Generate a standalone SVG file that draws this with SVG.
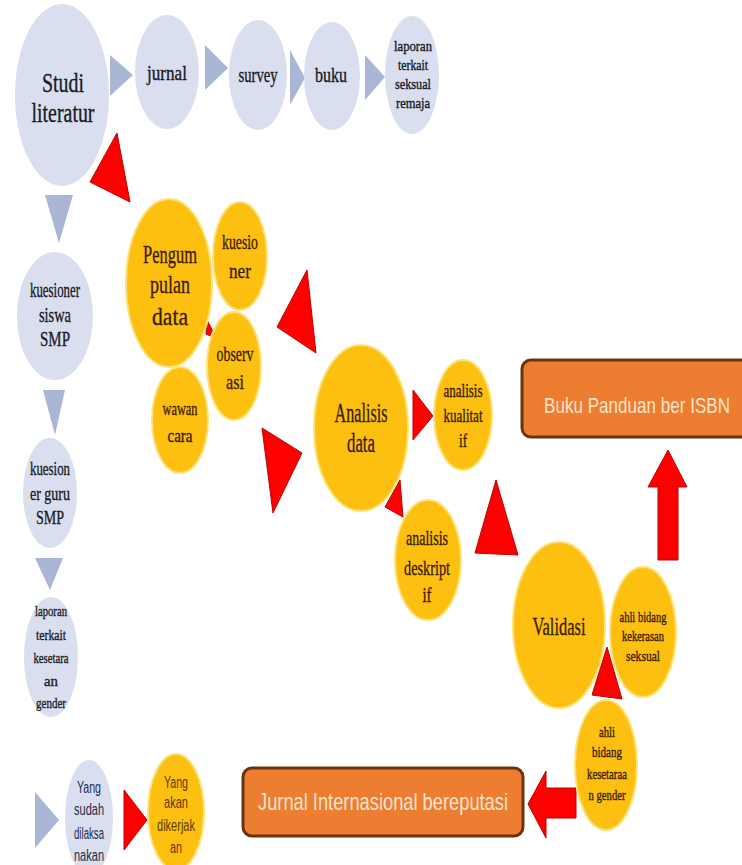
<svg xmlns="http://www.w3.org/2000/svg" width="742" height="865" viewBox="0 0 742 865">
<defs>
<style>
.blue{fill:#D9DFEE}
.yel{fill:#FDC010;stroke:#FBE27A;stroke-width:2}
.tri{fill:#A9B6D6}
.red{fill:#FF0000;stroke:#C00000;stroke-width:1}
.box{fill:#ED7D31;stroke:#6B3410;stroke-width:3}
.st{font-family:"Liberation Serif",serif;text-anchor:middle;fill:#1A1A26;stroke:#1A1A26;stroke-width:0.35}
.sy{font-family:"Liberation Serif",serif;text-anchor:middle;fill:#3B1C08;stroke:#3B1C08;stroke-width:0.35}
.bt{font-family:"Liberation Sans",sans-serif;text-anchor:middle;fill:#FBE3CC}
.lg{font-family:"Liberation Sans",sans-serif;text-anchor:middle}
</style>
</defs>
<rect width="742" height="865" fill="#FFFFFF"/>

<g id="connectors">
<polygon class="tri" points="110,55 133,75 110,96"/>
<polygon class="tri" points="205,45 228,68 205,90"/>
<polygon class="tri" points="290,50 305,78 290,105"/>
<polygon class="tri" points="365,55 385,77 365,100"/>
<polygon class="tri" points="45,195 73,195 59,243"/>
<polygon class="tri" points="43,390 65,390 55,435"/>
<polygon class="tri" points="35,558 63,558 50,590"/>
<polygon class="red" points="117,133 90,182 130,202"/>
<polygon class="red" points="307,270 277,327 316,353"/>
<polygon class="red" points="207,320 217,339 206,334"/>
<polygon class="red" points="262,428 302,453 273,513"/>
<polygon class="red" points="413,390 433,416 413,440"/>
<polygon class="red" points="400,480 385,507 403,517"/>
<polygon class="red" points="496,480 475,553 518,555"/>
<polygon class="red" points="607,647 592,695 622,699"/>
<polygon class="red" points="668,450 687,487 678,487 678,560 658,560 658,487 648,487"/>
<polygon class="red" points="528,804 546,771 546,788 576,788 576,818 546,818 546,838"/>
</g>

<g id="studi-literatur">
<ellipse class="blue" cx="62" cy="95" rx="47" ry="91"/>
<text class="st" x="63" y="92" font-size="27" textLength="42" lengthAdjust="spacingAndGlyphs">Studi</text>
<text class="st" x="63" y="122" font-size="27" textLength="63" lengthAdjust="spacingAndGlyphs">literatur</text>
</g>
<g id="jurnal">
<ellipse class="blue" cx="167" cy="72" rx="32" ry="57"/>
<text class="st" x="167" y="80" font-size="20" textLength="40" lengthAdjust="spacingAndGlyphs">jurnal</text>
</g>
<g id="survey">
<ellipse class="blue" cx="258" cy="75" rx="29" ry="55"/>
<text class="st" x="258" y="82" font-size="20" textLength="39" lengthAdjust="spacingAndGlyphs">survey</text>
</g>
<g id="buku">
<ellipse class="blue" cx="332" cy="76" rx="28" ry="54"/>
<text class="st" x="331" y="82" font-size="20" textLength="32" lengthAdjust="spacingAndGlyphs">buku</text>
</g>
<g id="laporan-seksual">
<ellipse class="blue" cx="412" cy="75" rx="27" ry="59"/>
<text class="st" x="413" y="51" font-size="14" textLength="38" lengthAdjust="spacingAndGlyphs">laporan</text>
<text class="st" x="413" y="70" font-size="14" textLength="30" lengthAdjust="spacingAndGlyphs">terkait</text>
<text class="st" x="413" y="89" font-size="14" textLength="36" lengthAdjust="spacingAndGlyphs">seksual</text>
<text class="st" x="413" y="108" font-size="14" textLength="34" lengthAdjust="spacingAndGlyphs">remaja</text>
</g>

<g id="kuesioner-siswa">
<ellipse class="blue" cx="55" cy="316" rx="38" ry="64"/>
<text class="st" x="55" y="297" font-size="21" textLength="50" lengthAdjust="spacingAndGlyphs">kuesioner</text>
<text class="st" x="55" y="322" font-size="21" textLength="32" lengthAdjust="spacingAndGlyphs">siswa</text>
<text class="st" x="55" y="346" font-size="21" textLength="30" lengthAdjust="spacingAndGlyphs">SMP</text>
</g>
<g id="kuesioner-guru">
<ellipse class="blue" cx="50" cy="493" rx="27" ry="55"/>
<text class="st" x="50" y="475" font-size="19" textLength="40" lengthAdjust="spacingAndGlyphs">kuesion</text>
<text class="st" x="50" y="500" font-size="19" textLength="40" lengthAdjust="spacingAndGlyphs">er guru</text>
<text class="st" x="50" y="524" font-size="19" textLength="28" lengthAdjust="spacingAndGlyphs">SMP</text>
</g>
<g id="laporan-gender">
<ellipse class="blue" cx="51" cy="657" rx="27" ry="60"/>
<text class="st" x="51" y="616" font-size="15" textLength="32" lengthAdjust="spacingAndGlyphs">laporan</text>
<text class="st" x="51" y="640" font-size="15" textLength="30" lengthAdjust="spacingAndGlyphs">terkait</text>
<text class="st" x="51" y="663" font-size="15" textLength="35" lengthAdjust="spacingAndGlyphs">kesetara</text>
<text class="st" x="51" y="686" font-size="15" textLength="14" lengthAdjust="spacingAndGlyphs">an</text>
<text class="st" x="51" y="708" font-size="15" textLength="30" lengthAdjust="spacingAndGlyphs">gender</text>
</g>

<g id="pengumpulan-data">
<ellipse class="yel" cx="169" cy="283" rx="43" ry="84"/>
<text class="sy" x="170" y="263" font-size="26" textLength="54" lengthAdjust="spacingAndGlyphs">Pengum</text>
<text class="sy" x="170" y="293" font-size="26" textLength="40" lengthAdjust="spacingAndGlyphs">pulan</text>
<text class="sy" x="170" y="325" font-size="26" textLength="36" lengthAdjust="spacingAndGlyphs">data</text>
</g>
<g id="kuesioner">
<ellipse class="yel" cx="240" cy="256" rx="27" ry="54"/>
<text class="sy" x="240" y="249" font-size="22" textLength="36" lengthAdjust="spacingAndGlyphs">kuesio</text>
<text class="sy" x="240" y="278" font-size="22" textLength="22" lengthAdjust="spacingAndGlyphs">ner</text>
</g>
<g id="observasi">
<ellipse class="yel" cx="234" cy="366" rx="27" ry="54"/>
<text class="sy" x="235" y="361" font-size="22" textLength="37" lengthAdjust="spacingAndGlyphs">observ</text>
<text class="sy" x="235" y="389" font-size="22" textLength="18" lengthAdjust="spacingAndGlyphs">asi</text>
</g>
<g id="wawancara">
<ellipse class="yel" cx="180" cy="420" rx="28" ry="53"/>
<text class="sy" x="180" y="415" font-size="19" textLength="35" lengthAdjust="spacingAndGlyphs">wawan</text>
<text class="sy" x="180" y="442" font-size="19" textLength="25" lengthAdjust="spacingAndGlyphs">cara</text>
</g>
<g id="analisis-data">
<ellipse class="yel" cx="361" cy="428" rx="47" ry="83"/>
<text class="sy" x="361" y="422" font-size="27" textLength="53" lengthAdjust="spacingAndGlyphs">Analisis</text>
<text class="sy" x="361" y="452" font-size="27" textLength="28" lengthAdjust="spacingAndGlyphs">data</text>
</g>
<g id="analisis-kualitatif">
<ellipse class="yel" cx="463" cy="415" rx="29" ry="55"/>
<text class="sy" x="463" y="397" font-size="18" textLength="39" lengthAdjust="spacingAndGlyphs">analisis</text>
<text class="sy" x="463" y="422" font-size="18" textLength="39" lengthAdjust="spacingAndGlyphs">kualitat</text>
<text class="sy" x="463" y="447" font-size="18" textLength="8" lengthAdjust="spacingAndGlyphs">if</text>
</g>
<g id="analisis-deskriptif">
<ellipse class="yel" cx="428" cy="560" rx="33" ry="60"/>
<text class="sy" x="427" y="545" font-size="21" textLength="42" lengthAdjust="spacingAndGlyphs">analisis</text>
<text class="sy" x="427" y="575" font-size="21" textLength="46" lengthAdjust="spacingAndGlyphs">deskript</text>
<text class="sy" x="427" y="602" font-size="21" textLength="9" lengthAdjust="spacingAndGlyphs">if</text>
</g>
<g id="validasi">
<ellipse class="yel" cx="559" cy="625" rx="46" ry="83"/>
<text class="sy" x="559" y="635" font-size="26" textLength="53" lengthAdjust="spacingAndGlyphs">Validasi</text>
</g>
<g id="ahli-kekerasan">
<ellipse class="yel" cx="643" cy="632" rx="33" ry="65"/>
<text class="sy" x="643" y="622" font-size="15" textLength="47" lengthAdjust="spacingAndGlyphs">ahli bidang</text>
<text class="sy" x="643" y="641" font-size="15" textLength="42" lengthAdjust="spacingAndGlyphs">kekerasan</text>
<text class="sy" x="643" y="661" font-size="15" textLength="34" lengthAdjust="spacingAndGlyphs">seksual</text>
</g>
<g id="ahli-kesetaraan">
<ellipse class="yel" cx="606" cy="765" rx="31" ry="65"/>
<text class="sy" x="607" y="737" font-size="15" textLength="16" lengthAdjust="spacingAndGlyphs">ahli</text>
<text class="sy" x="607" y="757" font-size="15" textLength="30" lengthAdjust="spacingAndGlyphs">bidang</text>
<text class="sy" x="607" y="779" font-size="15" textLength="40" lengthAdjust="spacingAndGlyphs">kesetaraa</text>
<text class="sy" x="607" y="800" font-size="15" textLength="37" lengthAdjust="spacingAndGlyphs">n gender</text>
</g>

<g id="buku-panduan">
<rect class="box" x="522" y="360" width="240" height="77" rx="9"/>
<text class="bt" transform="translate(637,413) scale(1,1.2)" x="0" y="0" font-size="18" textLength="186" lengthAdjust="spacingAndGlyphs">Buku Panduan ber ISBN</text>
</g>
<g id="jurnal-internasional">
<rect class="box" x="243" y="768" width="280" height="68" rx="9"/>
<text class="bt" x="383" y="810" font-size="24" textLength="250" lengthAdjust="spacingAndGlyphs">Jurnal Internasional bereputasi</text>
</g>

<g id="legend">
<polygon class="tri" points="35,792 59,820 35,848"/>
<ellipse class="blue" cx="89" cy="818" rx="24" ry="58"/>
<text class="lg" fill="#1F2D4D" x="89" y="793" font-size="16" textLength="24" lengthAdjust="spacingAndGlyphs">Yang</text>
<text class="lg" fill="#1F2D4D" x="89" y="815" font-size="16" textLength="30" lengthAdjust="spacingAndGlyphs">sudah</text>
<text class="lg" fill="#1F2D4D" x="89" y="839" font-size="16" textLength="30" lengthAdjust="spacingAndGlyphs">dilaksa</text>
<text class="lg" fill="#1F2D4D" x="89" y="861" font-size="16" textLength="30" lengthAdjust="spacingAndGlyphs">nakan</text>
<polygon class="red" points="124,790 147,820 124,850"/>
<ellipse class="yel" cx="176" cy="812" rx="28" ry="58"/>
<text class="lg" fill="#5C3B00" x="176" y="788" font-size="16" textLength="24" lengthAdjust="spacingAndGlyphs">Yang</text>
<text class="lg" fill="#5C3B00" x="176" y="808" font-size="16" textLength="24" lengthAdjust="spacingAndGlyphs">akan</text>
<text class="lg" fill="#5C3B00" x="176" y="831" font-size="16" textLength="38" lengthAdjust="spacingAndGlyphs">dikerjak</text>
<text class="lg" fill="#5C3B00" x="176" y="853" font-size="16" textLength="12" lengthAdjust="spacingAndGlyphs">an</text>
</g>
</svg>
